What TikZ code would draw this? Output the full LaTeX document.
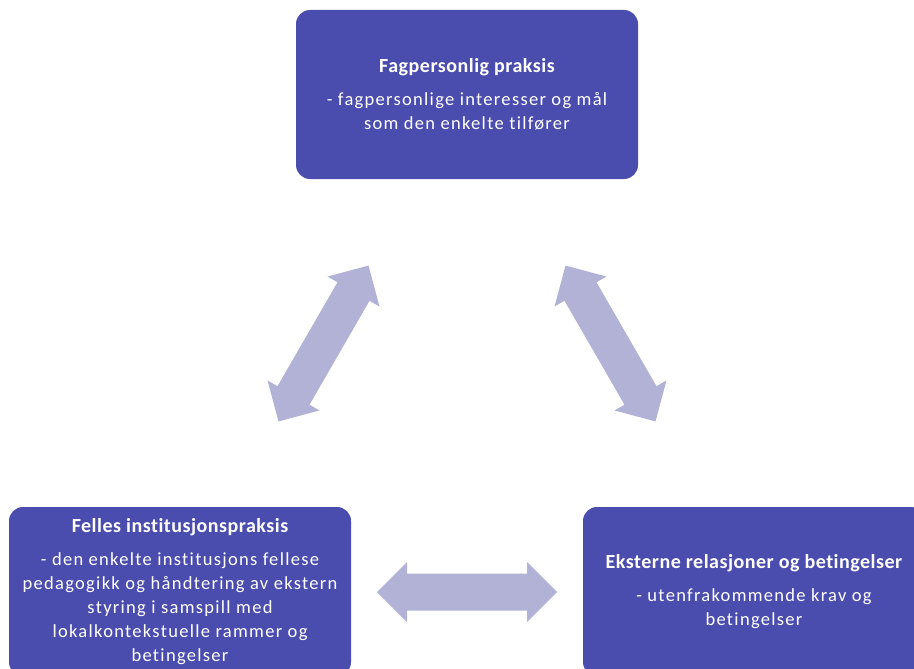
\documentclass[tikz,border=0pt]{standalone}
\usepackage{fontspec}
\setmainfont{Carlito}
\newfontfamily\bodyfont[LetterSpace=7,Ligatures={NoCommon}]{Carlito}
\newfontfamily\titlefont[LetterSpace=2.5,Ligatures={NoCommon}]{Carlito}
\definecolor{boxfill}{HTML}{4B4DAE}
\definecolor{arrowfill}{HTML}{B1B2D5}
\tikzset{
  box/.style={fill=boxfill, rounded corners=14pt, minimum width=342pt, minimum height=169pt,
    inner sep=0pt, text=white, align=center, font=\bodyfont\fontsize{18.5}{24}\selectfont},
  dblarrow/.pic={\fill[arrowfill] (-90,0) -- (-60,30) -- (-60,18.5) -- (60,18.5) -- (60,30) -- (90,0)
     -- (60,-30) -- (60,-18.5) -- (-60,-18.5) -- (-60,-30) -- cycle;}
}
\newcommand{\boxtitle}[1]{{\titlefont\bfseries\fontsize{20}{24}\selectfont #1}\\[9pt]}
\begin{document}
\begin{tikzpicture}[x=1pt,y=1pt]
\useasboundingbox (0,0) rectangle (914,-669);
\clip (0,0) rectangle (914,-669);
\node[box] (top) at (467,-94.5) {\boxtitle{Fagpersonlig praksis}- fagpersonlige interesser og mål\\som den enkelte tilfører};
\node[box] (left) at (180,-591.5) {\boxtitle{Felles institusjonspraksis}- den enkelte institusjons fellese\\pedagogikk og håndtering av ekstern\\styring i samspill med\\lokalkontekstuelle rammer og\\betingelser};
\node[box] (right) at (754,-591.5) {\boxtitle{Eksterne relasjoner og betingelser}- utenfrakommende krav og\\betingelser};
\coordinate (aL) at (323.5,-343.5);
\coordinate (aR) at (610.5,-343.5);
\coordinate (aB) at (467,-592);
\pic[rotate=60] at (aL) {dblarrow};
\pic[rotate=-60] at (aR) {dblarrow};
\pic at (aB) {dblarrow};
\end{tikzpicture}
\end{document}
